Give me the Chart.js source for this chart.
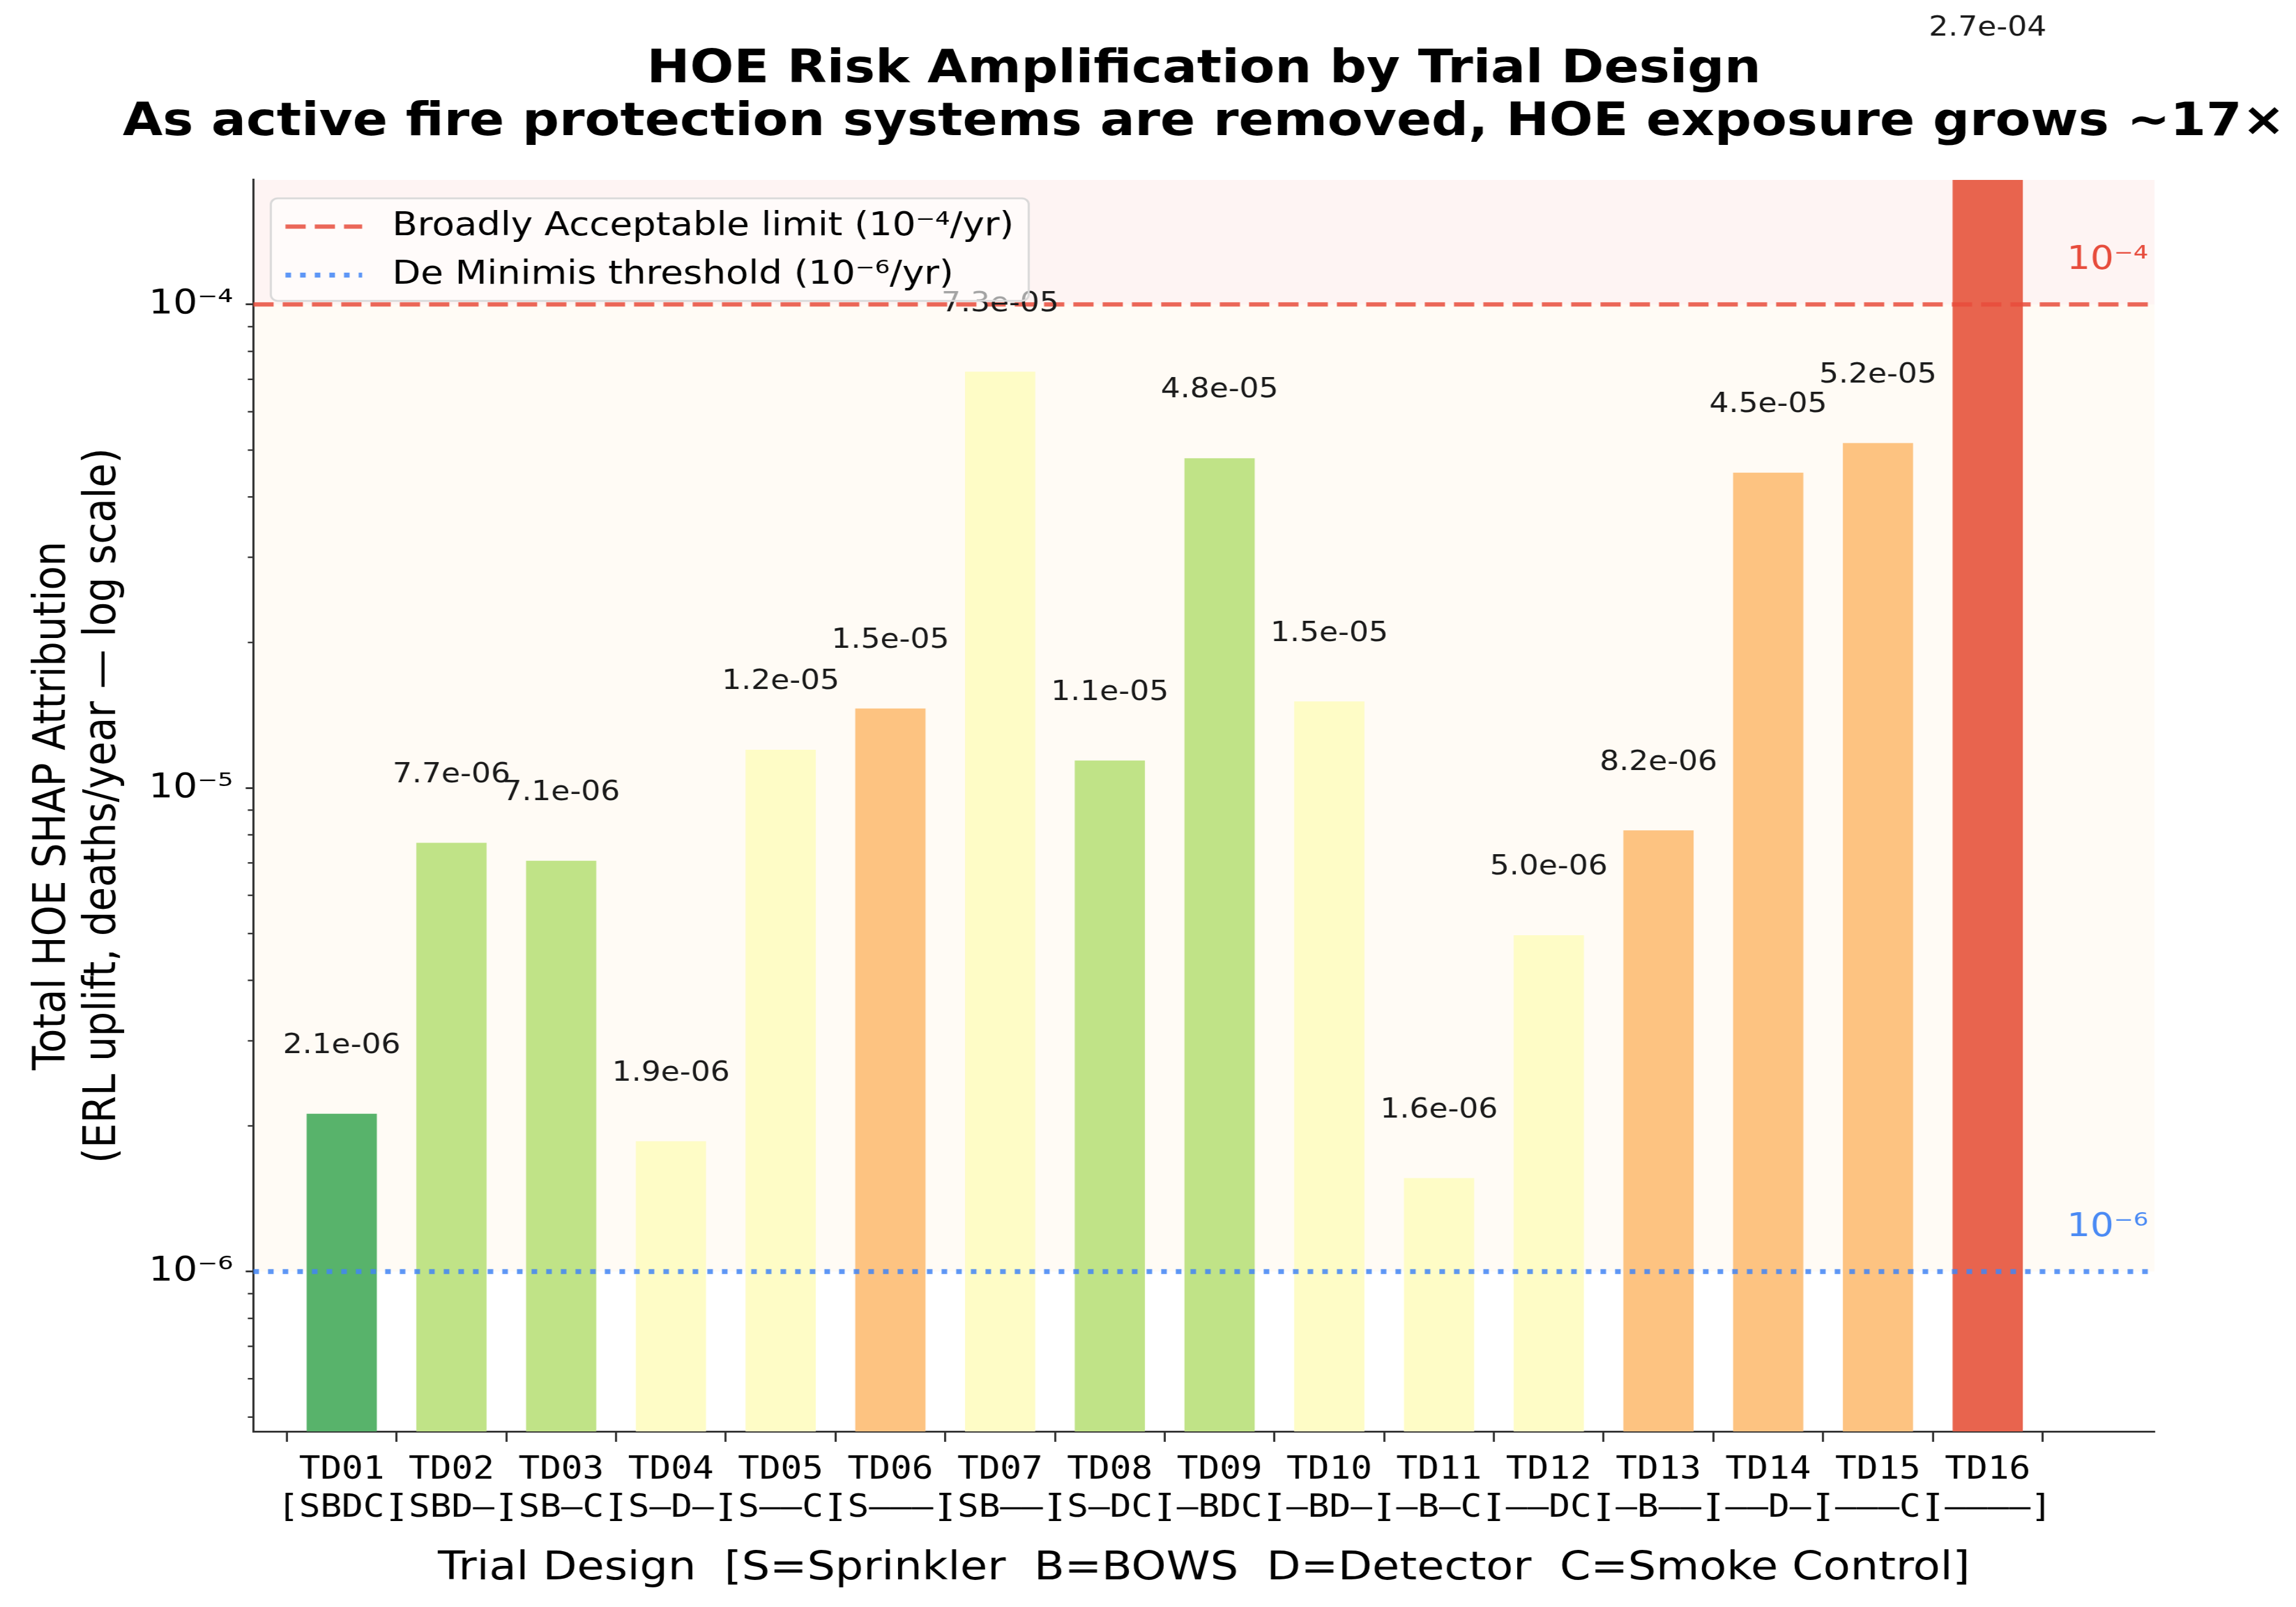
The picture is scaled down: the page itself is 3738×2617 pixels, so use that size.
<!DOCTYPE html>
<html>
<head>
<meta charset="utf-8">
<script src="https://cdn.jsdelivr.net/npm/chart.js@4.4.1/dist/chart.umd.min.js"></script>
<style>
  html, body { margin: 0; padding: 0; background: #ffffff; overflow: hidden; }
  #wrap { width: 3293px; height: 2617px; transform: scaleX(1.13514); transform-origin: 0 0; }
</style>
</head>
<body>
<div id="wrap"><canvas id="c" width="3293" height="2617"></canvas></div>
<script>
// ---------------- data ----------------
const CATEGORIES = ['TD01','TD02','TD03','TD04','TD05','TD06','TD07','TD08',
                    'TD09','TD10','TD11','TD12','TD13','TD14','TD15','TD16'];
const CODES = ['[SBDC]','[SBD—]','[SB—C]','[S—D—]','[S——C]','[S———]','[SB——]','[S—DC]',
               '[—BDC]','[—BD—]','[—B—C]','[——DC]','[—B——]','[——D—]','[———C]','[————]'];
const VALUES = [2.12e-6, 7.70e-6, 7.07e-6, 1.86e-6, 1.20e-5, 1.46e-5, 7.26e-5, 1.14e-5,
                4.81e-5, 1.51e-5, 1.56e-6, 4.96e-6, 8.17e-6, 4.49e-5, 5.17e-5, 2.70e-4];
const Y_TICKS = [1e-6, 1e-5, 1e-4];
const THRESHOLDS = [1e-4, 1e-6];
const THRESHOLD_LABELS = ['Broadly Acceptable limit (10⁻⁴/yr)', 'De Minimis threshold (10⁻⁶/yr)'];
const TITLE_LINES = ['HOE Risk Amplification by Trial Design',
                     'As active fire protection systems are removed, HOE exposure grows ~17×'];
const X_TITLE = 'Trial Design  [S=Sprinkler  B=BOWS  D=Detector  C=Smoke Control]';
const Y_TITLE = ['Total HOE SHAP Attribution', '(ERL uplift, deaths/year — log scale)'];

// axis limits
const Y_MIN = 4.67e-7, Y_MAX = 1.81e-4;
const X_MIN = -0.805, X_MAX = 16.52;

// ---------------- styles ----------------
const BAR_COLORS = ['#58b36b','#c0e387','#c0e387','#fefcc6','#fefcc6','#fdc381','#fefcc6','#c0e387',
                    '#c0e387','#fefcc6','#fefcc6','#fefcc6','#fdc381','#fdc381','#fdc381','#e8644e'];
const LINE_COLORS = ['rgba(231,76,60,0.85)', 'rgba(66,133,244,0.85)'];
const ANNOT_COLORS = ['#e74c3c', '#4a8af4'];
const LINE_WIDTHS = [7, 8];
const LINE_DASHES = [[29, 13], [8, 13]];
const BAND_COLORS = ['#fef4f3', '#fffbf5'];

const SUP = {'-':'⁻','0':'⁰','1':'¹','2':'²','3':'³','4':'⁴','5':'⁵','6':'⁶','7':'⁷','8':'⁸','9':'⁹'};
function pow10Label(v) {
  const e = Math.round(Math.log10(v));
  return '10' + String(e).split('').map(c => SUP[c]).join('');
}
function sci(v) {
  return v.toExponential(1).replace(/e([+-])(\d)$/, 'e$10$2');
}

// ---------------- plugins ----------------
const bandsPlugin = {
  id: 'bands',
  beforeDraw(chart) {
    const {ctx, chartArea: a, scales: {y}} = chart;
    const yHi = y.getPixelForValue(THRESHOLDS[0]);
    const yLo = y.getPixelForValue(THRESHOLDS[1]);
    ctx.save();
    ctx.fillStyle = BAND_COLORS[0];
    ctx.fillRect(a.left, a.top, a.right - a.left, yHi - a.top);
    ctx.fillStyle = BAND_COLORS[1];
    ctx.fillRect(a.left, yHi, a.right - a.left, yLo - yHi);
    ctx.restore();
  }
};

const refLinesPlugin = {
  id: 'refLines',
  afterDatasetsDraw(chart) {
    const {ctx, chartArea: a, scales: {y}} = chart;
    THRESHOLDS.forEach((t, k) => {
      const py = y.getPixelForValue(t);
      ctx.save();
      ctx.strokeStyle = LINE_COLORS[k];
      ctx.lineWidth = LINE_WIDTHS[k];
      ctx.setLineDash(LINE_DASHES[k]);
      ctx.lineCap = 'butt';
      ctx.beginPath();
      ctx.moveTo(a.left, py);
      ctx.lineTo(a.right, py);
      ctx.stroke();
      ctx.restore();

      ctx.save();
      ctx.fillStyle = ANNOT_COLORS[k];
      ctx.font = '53px "DejaVu Sans"';
      ctx.textAlign = 'right';
      ctx.textBaseline = 'alphabetic';
      ctx.fillText(pow10Label(t), a.right - 9, y.getPixelForValue(t * 1.185));
      ctx.restore();
    });
  }
};

const overlayPlugin = {
  id: 'overlay',
  afterDraw(chart) {
    const {ctx, chartArea: a, scales: {y}} = chart;
    // minor ticks on the log axis
    ctx.save();
    ctx.strokeStyle = '#333';
    ctx.lineWidth = 2.5;
    ctx.beginPath();
    for (let e = Math.floor(Math.log10(y.min)); e <= Math.ceil(Math.log10(y.max)); e++) {
      for (let m = 2; m <= 9; m++) {
        const v = m * Math.pow(10, e);
        if (v < y.min || v > y.max) continue;
        const py = y.getPixelForValue(v);
        ctx.moveTo(a.left - 8, py);
        ctx.lineTo(a.left, py);
      }
    }
    ctx.stroke();
    ctx.restore();

    // value labels
    const meta = chart.getDatasetMeta(0);
    ctx.save();
    ctx.fillStyle = '#1a1a1a';
    ctx.font = '44px "DejaVu Sans"';
    ctx.textAlign = 'center';
    ctx.textBaseline = 'middle';
    meta.data.forEach((bar, i) => {
      ctx.fillText(sci(VALUES[i]), bar.x, y.getPixelForValue(VALUES[i] * 1.38));
    });
    ctx.restore();

    // legend
    const bx = a.left + 25, by = a.top + 30, bw = 1087, bh = 167;
    ctx.save();
    ctx.beginPath();
    if (ctx.roundRect) ctx.roundRect(bx, by, bw, bh, 10); else ctx.rect(bx, by, bw, bh);
    ctx.fillStyle = 'rgba(255,255,255,0.6)';
    ctx.fill();
    ctx.strokeStyle = '#d9d9d9';
    ctx.lineWidth = 3;
    ctx.stroke();
    THRESHOLD_LABELS.forEach((lab, k) => {
      const ry = by + 46 + k * 79;
      ctx.save();
      ctx.strokeStyle = LINE_COLORS[k];
      ctx.lineWidth = LINE_WIDTHS[k];
      ctx.setLineDash(LINE_DASHES[k]);
      ctx.beginPath();
      ctx.moveTo(bx + 21, ry);
      ctx.lineTo(bx + 131, ry);
      ctx.stroke();
      ctx.restore();
      ctx.fillStyle = '#000';
      ctx.font = '53px "DejaVu Sans"';
      ctx.textAlign = 'left';
      ctx.textBaseline = 'middle';
      ctx.fillText(lab, bx + 174, ry);
    });
    ctx.restore();
  }
};

const titleCenterPlugin = {
  id: 'titleCenter',
  afterLayout(chart) {
    const t = chart.titleBlock;
    if (!t) return;
    const a = chart.chartArea;
    const cx = (a.left + a.right) / 2;
    const half = chart.width / 2;
    t.left = cx - half;
    t.right = cx + half;
    t.width = 2 * half;
  }
};

// ---------------- chart ----------------
new Chart(document.getElementById('c'), {
  type: 'bar',
  data: {
    datasets: [{
      label: 'Total HOE SHAP Attribution',
      data: VALUES.map((v, i) => ({x: i, y: v})),
      backgroundColor: BAR_COLORS,
      borderWidth: 0,
      categoryPercentage: 1.0,
      barPercentage: 0.64
    }]
  },
  options: {
    responsive: false,
    devicePixelRatio: 1,
    animation: false,
    layout: { padding: { left: 0, right: 203, top: 0, bottom: 0 } },
    plugins: {
      legend: { display: false },
      tooltip: { enabled: false },
      title: {
        display: true,
        text: TITLE_LINES,
        color: '#000',
        fullSize: true,
        font: { family: 'DejaVu Sans', size: 74, weight: 'bold', lineHeight: 1.162 },
        padding: { top: 72, bottom: 49 }
      }
    },
    scales: {
      x: {
        type: 'linear',
        min: X_MIN,
        max: X_MAX,
        bounds: 'data',
        offset: false,
        afterBuildTicks: (s) => { s.ticks = CATEGORIES.map((_, i) => ({value: i})); },
        afterFit: (s) => { s.height = 286; },
        ticks: {
          autoSkip: false, maxRotation: 0, minRotation: 0, padding: 15, color: '#000',
          font: { family: 'DejaVu Sans Mono', size: 51, lineHeight: 1.23 },
          callback: (v) => [CATEGORIES[v], CODES[v]]
        },
        grid: { drawOnChartArea: false, drawTicks: true, tickLength: 17, tickWidth: 3, tickColor: '#333' },
        border: { display: true, color: '#333', width: 3 },
        title: {
          display: true, text: X_TITLE, color: '#000',
          font: { family: 'DejaVu Sans', size: 63.7, lineHeight: 1.2 },
          padding: { top: 0, bottom: 23 }
        }
      },
      y: {
        type: 'logarithmic',
        min: Y_MIN,
        max: Y_MAX,
        bounds: 'data',
        afterBuildTicks: (s) => { s.ticks = Y_TICKS.map(v => ({value: v})); },
        afterFit: (s) => { s.width = 363.4; },
        ticks: {
          padding: 18, color: '#000',
          font: { family: 'DejaVu Sans', size: 55 },
          callback: (v) => pow10Label(v)
        },
        grid: { drawOnChartArea: false, tickLength: 11, tickWidth: 3, tickColor: '#333' },
        border: { display: true, color: '#333', width: 3 },
        title: {
          display: true, text: Y_TITLE, color: '#000',
          font: { family: 'DejaVu Sans', size: 64, lineHeight: 1.12 },
          padding: { top: 41, bottom: 0 }
        }
      }
    }
  },
  plugins: [bandsPlugin, refLinesPlugin, overlayPlugin, titleCenterPlugin]
});
</script>
</body>
</html>
